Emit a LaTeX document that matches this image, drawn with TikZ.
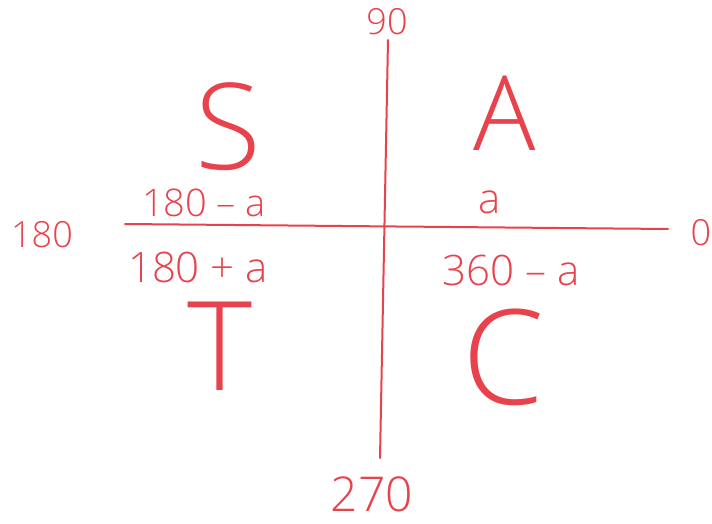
\documentclass[tikz,border=0pt]{standalone}
\usepackage{fontspec}
\newfontfamily\hand{Open Sans}[UprightFont={* Light}]
\usepackage{xcolor}
\definecolor{PenRed}{HTML}{E8434D}
\usepackage{tikz}
\usetikzlibrary{positioning}

\begin{document}
\begin{tikzpicture}[x=1pt, y=-1pt,
  axis/.style={draw=PenRed, line width=2pt, line cap=round},
  deglbl/.style={text=PenRed, inner sep=0pt, text depth=0pt, font=\hand\fontsize{36}{36}\selectfont},
  anglbl/.style={text=PenRed, inner sep=0pt, text depth=0pt, font=\hand\fontsize{42}{42}\selectfont},
  quadlbl/.style={text=PenRed, inner sep=0pt, text depth=0pt, font=\hand\fontsize{124}{124}\selectfont},
]
\useasboundingbox (0,0) rectangle (712,524);
\fill[white] (0,0) rectangle (712,524);

% axes
\coordinate (top) at (388,40);
\coordinate (bot) at (380,458);
\coordinate (lft) at (125,224);
\coordinate (rgt) at (668,229);
\draw[axis] (top) -- (bot);
\draw[axis] (lft) -- (rgt);

% degrees
\node[deglbl] (d90) at (387,21) {90};
\node[deglbl] (d180) at (42,234) {180};
\node[deglbl] (d0) at (701,232) {0};
\node[deglbl, font=\hand\fontsize{48}{48}\selectfont] (d270) at (372,494) {270};

% quadrants
\node[quadlbl, font=\hand\fontsize{120}{120}\selectfont] (qS) at (228,126) {S};
\node[quadlbl, font=\hand\fontsize{104}{104}\selectfont] (qA) at (505,113) {A};
\node[quadlbl] (qT) at (220,346) {T};
\node[quadlbl, font=\hand\fontsize{132}{132}\selectfont] (qC) at (503,357) {C};

% angles
\node[anglbl, font=\hand\fontsize{38}{38}\selectfont] (a180m) at (204,203) {180 – a};
\node[anglbl] (aa) at (490,202) {a};
\node[anglbl] (a180p) at (198,267) {180 + a};
\node[anglbl] (a360m) at (511,270) {360 – a};
\end{tikzpicture}
\end{document}
